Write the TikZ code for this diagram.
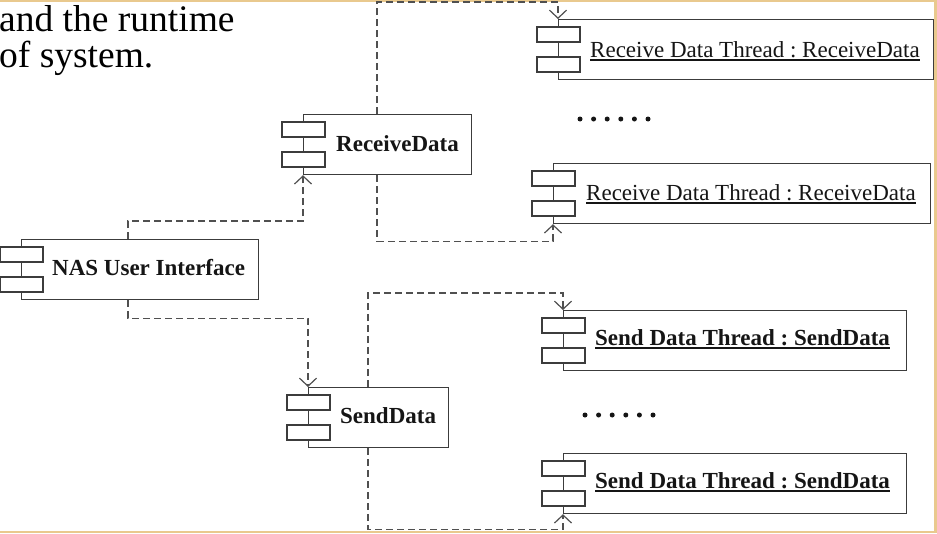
\documentclass[tikz,border=0pt]{standalone}
\usepackage{fontspec}
\setmainfont{Liberation Serif}
\usetikzlibrary{arrows.meta,calc}
\definecolor{framecol}{HTML}{E9C98E}
\definecolor{boxline}{HTML}{3C3C3C}
\definecolor{dashline}{HTML}{505050}
\definecolor{txt}{HTML}{151515}
\frenchspacing
\newcommand\comptabs[1]{%
  \draw[tabbox] ($(#1.north west)+(-21,8)$) rectangle ($(#1.north west)+(22,23)$);
  \draw[tabbox] ($(#1.north west)+(-21,38)$) rectangle ($(#1.north west)+(22,53)$);}
\begin{document}
\begin{tikzpicture}[x=1pt,y=-1pt,
  compbox/.style={draw=boxline,line width=1.2pt,fill=white,anchor=north west,minimum height=60pt,inner sep=0pt},
  tabbox/.style={draw=boxline,line width=1.2pt,fill=white},
  lbl/.style={anchor=base west,inner sep=0pt,text=txt,font=\fontsize{23}{27}\selectfont},
  blbl/.style={lbl,font=\fontsize{23}{27}\selectfont\bfseries},
  paratext/.style={anchor=base west,inner sep=0pt,text=black,font=\fontsize{37.5}{40}\selectfont},
  conn/.style={draw=dashline,line width=1.2pt,dash pattern=on 7pt off 4pt,-{Straight Barb[length=8pt,width=17pt]}},
  uline/.style={draw=txt,line width=1.3pt}]
\useasboundingbox (0,0) rectangle (937,533);
\fill[framecol] (0,0) rectangle (937,533);
\fill[white] (-1,1.6) rectangle (934,530.6);

% paragraph fragment
\node[paratext] (p1) at (-1,31) {and the runtime};
\node[paratext] (p2) at (-1,67) {of system.};

% components
\node[compbox,minimum width=237pt] (nas) at (21,239) {};
\comptabs{nas}
\node[blbl] (nast) at (52,275) {NAS User Interface};

\node[compbox,minimum width=168pt] (rd) at (303,114) {};
\comptabs{rd}
\node[blbl] (rdt) at (336,151) {ReceiveData};

\node[compbox,minimum width=140pt] (sd) at (308,387) {};
\comptabs{sd}
\node[blbl] (sdt) at (340,423) {SendData};

\node[compbox,minimum width=375pt] (rdta) at (558,19) {};
\comptabs{rdta}
\node[lbl] (rdtat) at (590,57) {Receive Data Thread : ReceiveData};
\draw[uline] ($(rdtat.south west)+(0,2.5)$) -- ($(rdtat.south east)+(0,2.5)$);

\node[compbox,minimum width=377pt] (rdtb) at (553,163) {};
\comptabs{rdtb}
\node[lbl] (rdtbt) at (586,200) {Receive Data Thread : ReceiveData};
\draw[uline] ($(rdtbt.south west)+(0,2.5)$) -- ($(rdtbt.south east)+(0,2.5)$);

\node[compbox,minimum width=343pt] (sdta) at (563,310) {};
\comptabs{sdta}
\node[blbl] (sdtat) at (595,345) {Send Data Thread : SendData};
\draw[uline] ($(sdtat.south west)+(0,2.5)$) -- ($(sdtat.south east)+(0,2.5)$);

\node[compbox,minimum width=343pt] (sdtb) at (563,453) {};
\comptabs{sdtb}
\node[blbl] (sdtbt) at (595,488) {Send Data Thread : SendData};
\draw[uline] ($(sdtbt.south west)+(0,2.5)$) -- ($(sdtbt.south east)+(0,2.5)$);

% dots
\foreach \i in {0,...,5} {
  \fill[txt] (580+13.6*\i,119) circle (2.5);
  \fill[txt] (585+13.6*\i,415) circle (2.5);
}

% connectors
\draw[conn] ($(nas.north west)+(107,0)$) -- ++(0,-18) -| (rd.south west);
\draw[conn] ($(nas.south west)+(107,0)$) -- ++(0,18) -| (sd.north west);
\draw[conn] ($(rd.north west)+(74,0)$) -- ++(0,-112) -| (rdta.north west);
\draw[conn] ($(rd.south west)+(74,0)$) -- ++(0,66) -| (rdtb.south west);
\draw[conn] ($(sd.north west)+(60,0)$) -- ++(0,-94) -| (sdta.north west);
\draw[conn] ($(sd.south west)+(60,0)$) -- ++(0,81) -| (sdtb.south west);
\end{tikzpicture}
\end{document}
